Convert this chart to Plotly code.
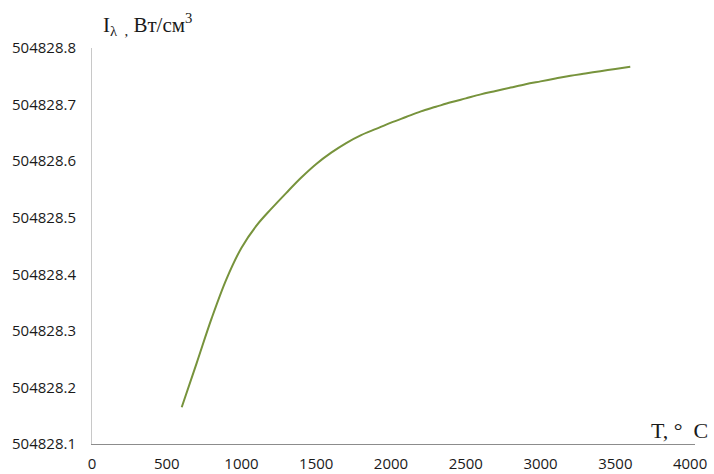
import plotly.graph_objects as go

temperature = [600, 700, 800, 900, 1000, 1100, 1200, 1300, 1400, 1500, 1600, 1700, 1800,
               1900, 2000, 2100, 2200, 2300, 2400, 2500, 2600, 2700, 2800, 2900, 3000,
               3100, 3200, 3300, 3400, 3500, 3600]
intensity_offset = [0.165, 0.243, 0.322, 0.392, 0.447, 0.486, 0.516, 0.544, 0.571, 0.595,
                    0.615, 0.632, 0.646, 0.657, 0.668, 0.678, 0.688, 0.696, 0.704, 0.711,
                    0.718, 0.724, 0.730, 0.736, 0.741, 0.746, 0.751, 0.755, 0.759, 0.763,
                    0.767]
base = 504828.0
intensity = [base + v for v in intensity_offset]

x_ticks = [0, 500, 1000, 1500, 2000, 2500, 3000, 3500, 4000]
y_ticks = [504828.1, 504828.2, 504828.3, 504828.4, 504828.5, 504828.6, 504828.7, 504828.8]

fig = go.Figure()
fig.add_trace(go.Scatter(x=temperature, y=intensity, mode="lines",
                         line=dict(color="#77933C", width=2), line_shape="spline",
                         showlegend=False, hoverinfo="skip"))

tick_font = dict(family="Open Sans", size=15, color="#1a1a1a")
fig.update_layout(
    width=714, height=474,
    margin=dict(l=92, r=19, t=48, b=30),
    paper_bgcolor="white", plot_bgcolor="white",
    xaxis=dict(range=[0, 4033], tickvals=x_ticks, ticktext=[str(v) for v in x_ticks],
               showgrid=False, zeroline=False, showline=True, linecolor="#8c8c8c",
               linewidth=1, ticks="outside", ticklen=6, tickcolor="rgba(0,0,0,0)",
               tickfont=tick_font, automargin=False),
    yaxis=dict(range=[504828.1, 504828.8], tickvals=y_ticks,
               ticktext=[f"{v:.1f}" for v in y_ticks],
               showgrid=False, zeroline=False, showline=True, linecolor="#c8c8c8",
               linewidth=1, ticks="outside", ticklen=12, tickcolor="rgba(0,0,0,0)",
               tickfont=tick_font, automargin=False),
    annotations=[
        dict(text="I<sub>λ  ,</sub> Вт/см<sup>3</sup>", xref="paper", yref="paper",
             x=0.015, y=1.06, xanchor="left", yanchor="middle", showarrow=False,
             font=dict(family="Liberation Serif", size=21, color="#1a1a1a")),
        dict(text="T, °  C", xref="paper", yref="paper",
             x=1.025, y=0.035, xanchor="right", yanchor="middle", showarrow=False,
             font=dict(family="Liberation Serif", size=22, color="#1a1a1a")),
    ],
)
fig.write_html("out.html", config={"displayModeBar": False},
               post_script="document.body.style.margin='0';document.body.style.overflow='hidden';")
